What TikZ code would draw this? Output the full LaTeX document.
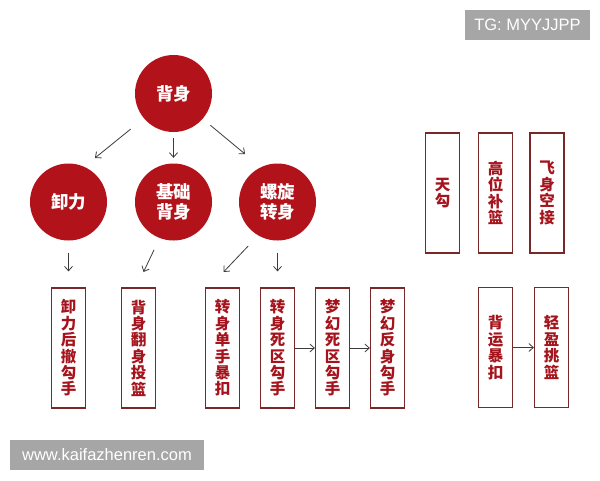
\documentclass[tikz,border=0pt]{standalone}
\usepackage{fontspec}
\setmainfont{Liberation Sans}
\newfontfamily\cjk{Noto Sans CJK SC}
\usetikzlibrary{arrows.meta}
\definecolor{circred}{RGB}{178,18,26}
\definecolor{boxline}{RGB}{120,40,40}
\definecolor{boxtext}{RGB}{165,20,28}
\definecolor{arrgray}{RGB}{60,60,60}
\definecolor{wmgray}{RGB}{166,166,166}
\begin{document}
\begin{tikzpicture}[x=1pt,y=-1pt,
  circ/.style={circle,fill=circred,minimum size=77pt,inner sep=0pt,text=white,
    font=\cjk\bfseries\fontsize{17.5}{20}\selectfont,align=center},
  vbox/.style={draw=boxline,line width=1.2pt,fill=white,minimum width=34pt,minimum height=120pt,
    inner sep=0pt,text=boxtext,font=\cjk\bfseries\fontsize{15.5}{16.4}\selectfont,align=center},
  arr/.style={draw=arrgray,line width=0.8pt,-{Straight Barb[length=4.5pt,width=8pt]}},
  wm/.style={fill=wmgray,text=white,inner sep=0pt,font=\fontsize{16.5}{20}\selectfont}]
\useasboundingbox[fill=white] (0,0) rectangle (600,480);
% circles
\node[circ] (top) at (173.5,93.5) {背身};
\node[circ] (c1) at (68.5,202) {卸力};
\node[circ] (c2) at (173.5,202) {基础\\背身};
\node[circ] (c3) at (277.5,202) {螺旋\\转身};
% boxes
\node[vbox] (b1) at (68.5,348) {卸\\力\\后\\撤\\勾\\手};
\node[vbox] (b2) at (138.5,348) {背\\身\\翻\\身\\投\\篮};
\node[vbox] (b3) at (222.5,348) {转\\身\\单\\手\\暴\\扣};
\node[vbox] (b4) at (277.5,348) {转\\身\\死\\区\\勾\\手};
\node[vbox] (b5) at (332.5,348) {梦\\幻\\死\\区\\勾\\手};
\node[vbox] (b6) at (387.5,348) {梦\\幻\\反\\身\\勾\\手};
\node[vbox] (r1) at (442.5,193) {天\\勾};
\node[vbox] (r2) at (495.5,193) {高\\位\\补\\篮};
\node[vbox] (r3) at (547,193) {飞\\身\\空\\接};
\node[vbox] (r4) at (495.5,347.5) {背\\运\\暴\\扣};
\node[vbox] (r5) at (551.5,347.5) {轻\\盈\\挑\\篮};
% arrow ends
\coordinate (e1) at (95,158);
\coordinate (e3) at (245,154);
\coordinate (e5) at (143.5,272);
\coordinate (e6) at (223.5,272);
% connectors
\draw[arr,shorten <=17pt] (top.220) -- (e1);
\draw[arr,shorten <=6pt,shorten >=5.5pt] (top) -- (c2);
\draw[arr,shorten <=10pt] (top.319) -- (e3);
\draw[arr,shorten <=12pt,shorten >=16pt] (c1) -- (b1);
\draw[arr,shorten <=13pt] (c2.249) -- (e5);
\draw[arr,shorten <=14.5pt] (c3.240) -- (e6);
\draw[arr,shorten <=12pt,shorten >=16pt] (c3) -- (b4);
\draw[arr] (b4) -- (b5);
\draw[arr] (b5) -- (b6);
\draw[arr] (r4) -- (r5);
% watermarks
\node[wm,minimum width=125pt,minimum height=30pt] (tg) at (527.5,25) {TG: MYYJJPP};
\node[wm,minimum width=194pt,minimum height=30pt] (url) at (107,455) {www.kaifazhenren.com};
\end{tikzpicture}
\end{document}
